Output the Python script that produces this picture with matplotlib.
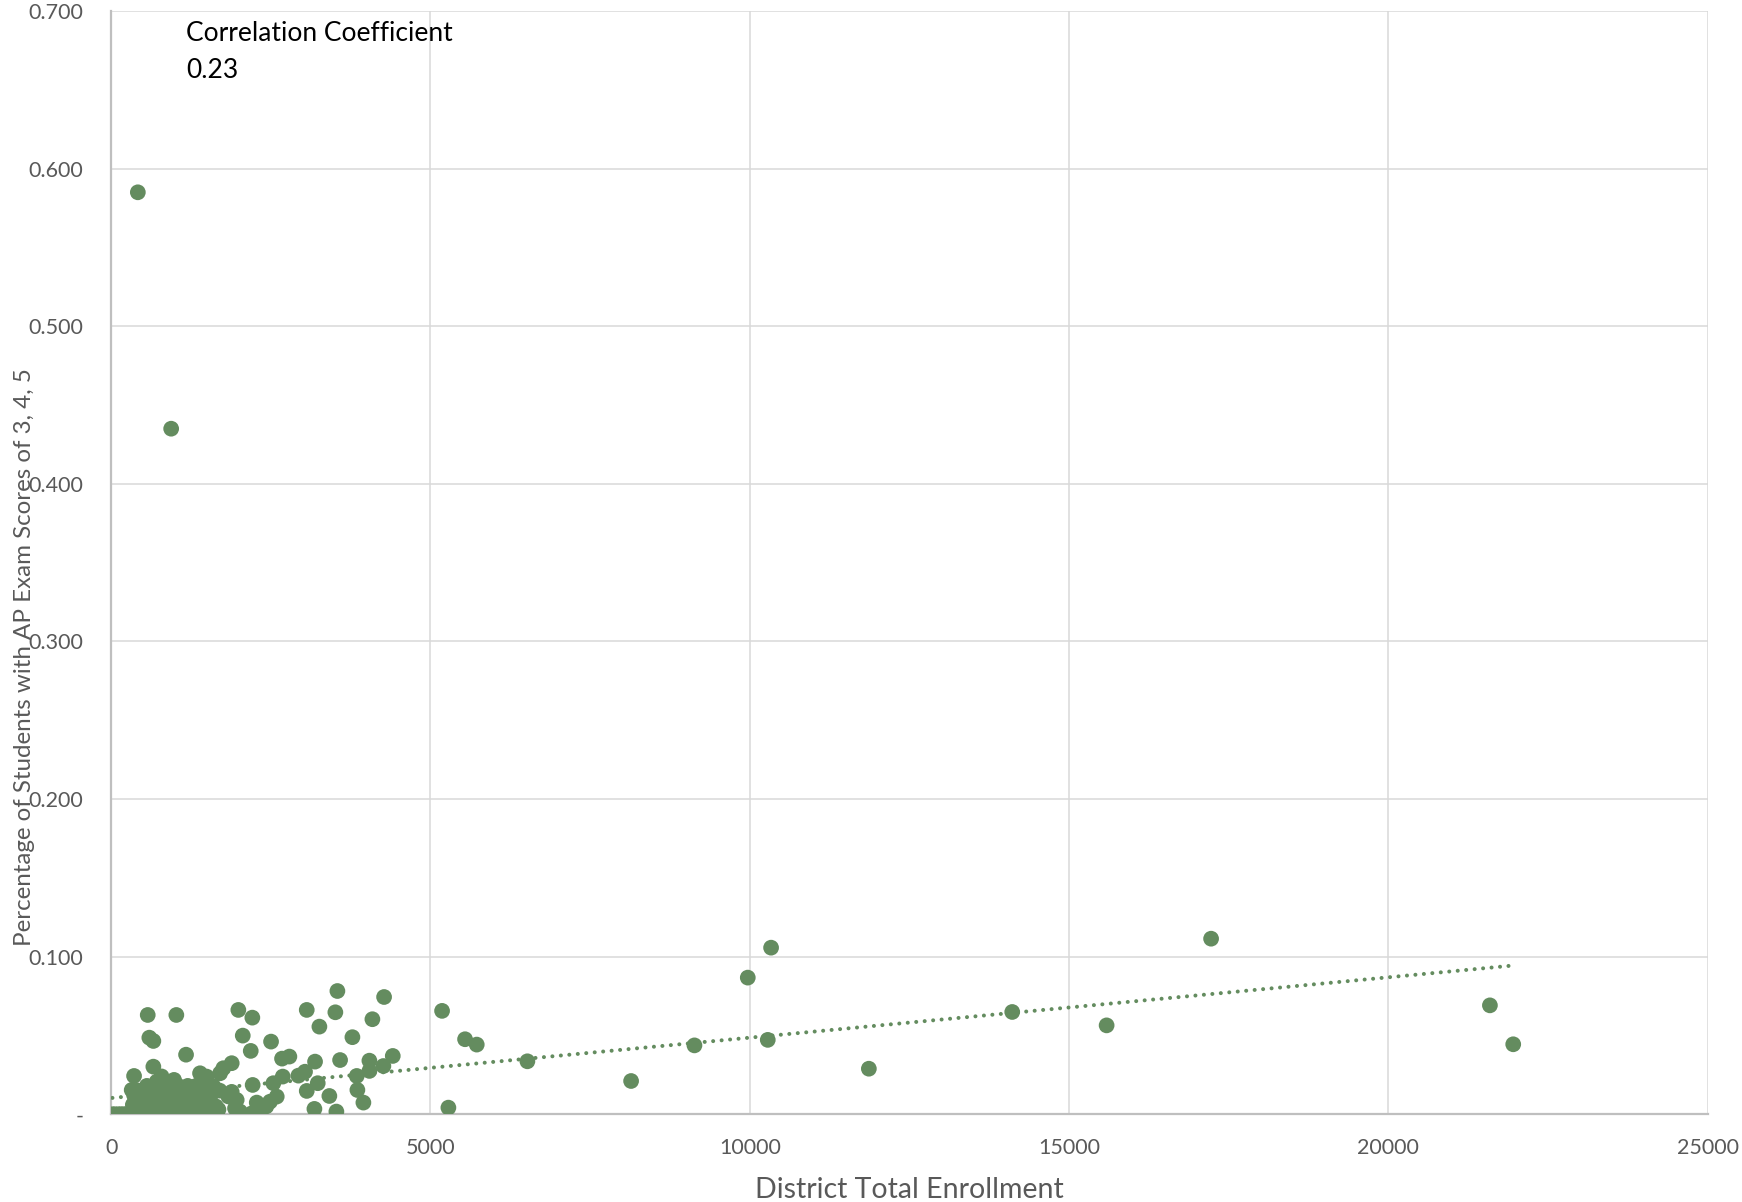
import matplotlib
matplotlib.use('Agg')
import matplotlib.pyplot as plt
from matplotlib.ticker import FixedLocator, FuncFormatter

# district enrollment vs share of students scoring 3-5 on AP exams
# spread-out districts
enroll_sparse = [418, 940, 10334, 9969, 17224, 21590, 21955, 14110, 15588, 11865,
                 10282, 9134, 8142, 6518, 5725, 5542, 5182, 5281, 4410, 4274,
                 4263, 4091, 4044, 4044, 3846, 3856, 3950, 3778, 3585, 3543,
                 3511, 3417, 3261, 3235, 3193, 3183, 3063, 3063, 3036, 2932,
                 3527, 2791, 2676, 2687, 2593, 2540, 2504, 2488, 2430, 2358,
                 2280, 2211, 2216, 2202, 2186, 2061, 1992, 2018, 1966, 1940,
                 1888, 1888, 1835, 1757, 1706, 1700, 1640, 1601, 1496, 1392,
                 1173, 1021, 985, 790, 714, 661, 661, 598, 573, 359, 322]
pct_sparse = [0.585, 0.435, 0.1057, 0.0867, 0.1114, 0.0691, 0.0444, 0.0649, 0.0564, 0.0289,
              0.0472, 0.0437, 0.0211, 0.0336, 0.0442, 0.0476, 0.0656, 0.0042, 0.0370, 0.0744,
              0.0306, 0.0603, 0.0340, 0.0275, 0.0243, 0.0154, 0.0074, 0.0489, 0.0344, 0.0782,
              0.0647, 0.0116, 0.0556, 0.0197, 0.0334, 0.0034, 0.0662, 0.0148, 0.0270, 0.0245,
              0.0017, 0.0366, 0.0353, 0.0239, 0.0112, 0.0197, 0.0461, 0.0080, 0.0050, 0.0035,
              0.0074, 0.0613, 0.0186, 0.0006, 0.0402, 0.0499, 0.0662, 0.0017, 0.0091, 0.0038,
              0.0142, 0.0324, 0.0113, 0.0292, 0.0260, 0.0150, 0.0050, 0.0177, 0.0239, 0.0260,
              0.0378, 0.0630, 0.0218, 0.0240, 0.0207, 0.0302, 0.0465, 0.0486, 0.0630, 0.0243, 0.0154]

# small districts packed near the origin
enroll_small = [20, 60, 110, 150, 190, 230, 270, 320, 360, 410, 460, 520, 580, 640, 700,
                760, 830, 900, 970, 1040, 1110, 1190, 1270, 1350, 1440, 1530, 1620,
                380, 450, 530, 610, 690, 770, 850, 930, 1010, 1100, 1190, 1290, 1400,
                1500, 1590, 1680,
                340, 420, 500, 580, 660, 740, 820, 900, 990, 1080, 1170, 1260, 1360, 1460,
                400, 480, 560, 640, 720, 800, 880, 960, 1050, 1140, 1230, 1320, 1430, 1550,
                360, 450, 540, 630, 720, 810, 900, 1000, 1100, 1200, 1310, 1450,
                420, 520, 620, 730, 840, 950, 1060, 1170, 1280, 1400,
                560, 680, 800, 930, 1050, 1200, 1330, 1500]
pct_small = [0.0, 0.0, 0.0, 0.0, 0.0, 0.0, 0.0, 0.0, 0.0, 0.0, 0.0, 0.0, 0.0, 0.0, 0.0,
             0.0, 0.0, 0.0, 0.0, 0.0, 0.0, 0.0, 0.0, 0.0, 0.0, 0.0, 0.0,
             0.003, 0.003, 0.003, 0.003, 0.003, 0.003, 0.003, 0.003, 0.003, 0.003, 0.003, 0.003, 0.003,
             0.003, 0.003, 0.003,
             0.006, 0.006, 0.006, 0.006, 0.006, 0.006, 0.006, 0.006, 0.006, 0.006, 0.006, 0.006, 0.006, 0.006,
             0.009, 0.009, 0.009, 0.009, 0.009, 0.009, 0.009, 0.009, 0.009, 0.009, 0.009, 0.009, 0.009, 0.009,
             0.012, 0.012, 0.012, 0.012, 0.012, 0.012, 0.012, 0.012, 0.012, 0.012, 0.012, 0.012,
             0.015, 0.015, 0.015, 0.015, 0.015, 0.015, 0.015, 0.015, 0.015, 0.015,
             0.018, 0.018, 0.018, 0.018, 0.018, 0.018, 0.018, 0.018]

# linear trendline
trend_intercept = 0.0103
trend_slope = 3.83e-6
corr_text = 'Correlation Coefficient\n0.23'

x_ticks = [0, 5000, 10000, 15000, 20000, 25000]
y_ticks = [0.0, 0.1, 0.2, 0.3, 0.4, 0.5, 0.6, 0.7]

green = '#648C5F'
gray_text = '#595959'

plt.rcParams['font.family'] = ['Lato', 'DejaVu Sans']

fig = plt.figure(figsize=(17.42, 12.02), dpi=100)
ax = fig.add_axes([0.0638, 0.0730, 0.9165, 0.9178])

enroll = enroll_small + enroll_sparse
pct = pct_small + pct_sparse
ax.scatter(enroll, pct, s=128, color=green, edgecolors='none', zorder=3)

x0, x1 = min(enroll), max(enroll)
ax.plot([x0, x1], [trend_intercept + trend_slope * x0, trend_intercept + trend_slope * x1],
        color=green, lw=2.9, linestyle=(0, (0.01, 2.1)), dash_capstyle='round', zorder=4)

ax.set_xlim(0, 25000)
ax.set_ylim(0, 0.7)
ax.xaxis.set_major_locator(FixedLocator(x_ticks))
ax.yaxis.set_major_locator(FixedLocator(y_ticks))
ax.yaxis.set_major_formatter(FuncFormatter(lambda v, p: '-' if v == 0 else f'{v:.3f}'))
ax.grid(True, color='#D9D9D9', lw=1.1, zorder=0)
ax.set_axisbelow(True)

for side in ['top', 'right']:
    ax.spines[side].set_visible(False)
for side in ['left', 'bottom']:
    ax.spines[side].set_color('#BFBFBF')
    ax.spines[side].set_linewidth(1.6)

ax.tick_params(length=0, labelsize=15.5, labelcolor=gray_text)
ax.tick_params(axis='x', pad=17)
ax.tick_params(axis='y', pad=20)

ax.set_xlabel('District Total Enrollment', fontsize=20.5, color=gray_text)
ax.xaxis.set_label_coords(0.5, -0.057)
ax.set_ylabel('Percentage of Students with AP Exam Scores of 3, 4, 5', fontsize=17.4, color=gray_text)
ax.yaxis.set_label_coords(-0.048, 0.4145)

ax.text(0.0468, 0.991, corr_text, transform=ax.transAxes, fontsize=19,
        color='black', va='top', ha='left', linespacing=1.6)

fig.savefig('out.png', dpi=100)
